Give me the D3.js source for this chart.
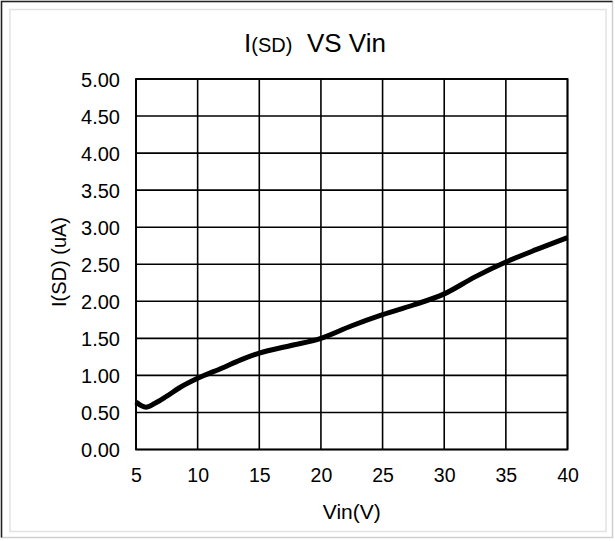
<!DOCTYPE html>
<html><head><meta charset="utf-8">
<script src="https://cdn.jsdelivr.net/npm/d3@7"></script>
<style>body{margin:0;background:#fff}svg{display:block}text{font-family:"Liberation Sans",Arial,sans-serif;fill:#000}</style>
</head><body>
<svg id="c" width="615" height="541"></svg>
<script>
const vin = [5, 5.8, 6.5, 7.5, 8.5, 10, 12, 13.5, 15, 17.5, 20, 22.5, 25, 27.5, 30, 32.5, 35, 37.5, 40];
const isd = [0.64, 0.57, 0.62, 0.72, 0.83, 0.96, 1.10, 1.21, 1.30, 1.40, 1.50, 1.67, 1.82, 1.95, 2.10, 2.33, 2.53, 2.70, 2.86];
const xTicks = [5, 10, 15, 20, 25, 30, 35, 40];
const yTicks = [0, 0.5, 1, 1.5, 2, 2.5, 3, 3.5, 4, 4.5, 5];

const svg = d3.select("#c");
// frame
svg.append("rect").attr("x",1.5).attr("y",1.5).attr("width",611).attr("height",536)
  .attr("fill","#fff").attr("stroke","#d0d0d0").attr("stroke-width",1.5);
svg.append("path").attr("d","M1.5,537.5V1.5H612.5").attr("fill","none").attr("stroke","#222").attr("stroke-width",1.5);
svg.append("rect").attr("x",10).attr("y",9.5).attr("width",596).attr("height",522)
  .attr("fill","none").attr("stroke","#e2e2e2").attr("stroke-width",1.5);

const L = 136, R = 567.5, T = 79, B = 449.5;
const x = d3.scaleLinear().domain([5,40]).range([L,R]);
const y = d3.scaleLinear().domain([0,5]).range([B,T]);

const g = svg.append("g");
// grid
g.selectAll(".vg").data(xTicks).join("line")
  .attr("x1",d=>x(d)).attr("x2",d=>x(d)).attr("y1",T).attr("y2",B)
  .attr("stroke","#000").attr("stroke-width",1.6);
g.selectAll(".hg").data(yTicks).join("line")
  .attr("y1",d=>y(d)).attr("y2",d=>y(d)).attr("x1",L).attr("x2",R)
  .attr("stroke","#000").attr("stroke-width",1.6);
g.append("rect").attr("x",L).attr("y",T).attr("width",R-L).attr("height",B-T)
  .attr("fill","none").attr("stroke","#000").attr("stroke-width",1.8);

// axes labels via d3 axis
const ya = svg.append("g").attr("transform",`translate(${L},0)`)
  .call(d3.axisLeft(y).tickValues(yTicks).tickFormat(d3.format(".2f")).tickSize(0).tickPadding(16));
ya.select(".domain").remove();
ya.selectAll("text").style("font-size","20px").attr("dy","0.35em");
const xa = svg.append("g").attr("transform",`translate(0,${B})`)
  .call(d3.axisBottom(x).tickValues(xTicks).tickSize(0).tickPadding(19));
xa.select(".domain").remove();
xa.selectAll("text").style("font-size","19.5px").attr("dy","0.71em");

// line
const pts = vin.map((v,i)=>[v,isd[i]]);
svg.append("path").datum(pts)
  .attr("d", d3.line().x(d=>x(d[0])).y(d=>y(d[1])).curve(d3.curveMonotoneX))
  .attr("fill","none").attr("stroke","#000").attr("stroke-width",5).attr("stroke-linejoin","round");

// titles
const t = svg.append("text").attr("x",315).attr("y",52).attr("text-anchor","middle").style("font-size","26px");
t.append("tspan").text("I");
t.append("tspan").style("font-size","20px").text("(SD)");
t.append("tspan").attr("xml:space","preserve").text("\u00a0 VS Vin");

svg.append("text").attr("x",(L+R)/2).attr("y",519).attr("text-anchor","middle").style("font-size","21px").text("Vin(V)");
svg.append("text").attr("transform",`translate(66,262) rotate(-90)`).attr("text-anchor","middle").style("font-size","20px").text("I(SD) (uA)");
</script>
</body></html>
